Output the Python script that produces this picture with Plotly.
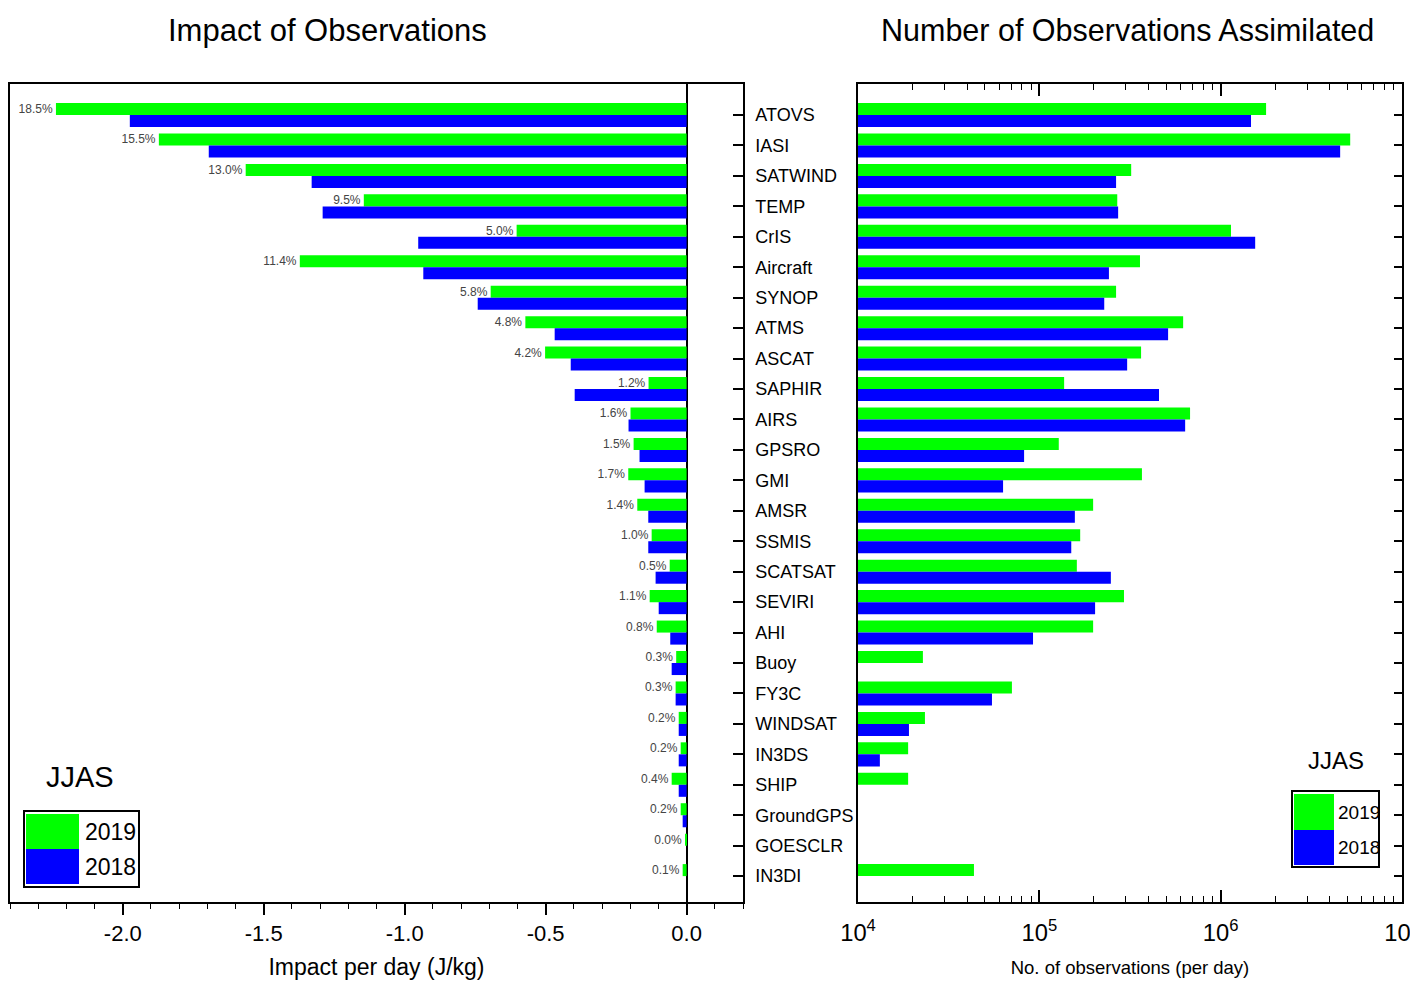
import plotly.graph_objects as go

categories = ["ATOVS", "IASI", "SATWIND", "TEMP", "CrIS", "Aircraft", "SYNOP", "ATMS",
              "ASCAT", "SAPHIR", "AIRS", "GPSRO", "GMI", "AMSR", "SSMIS", "SCATSAT",
              "SEVIRI", "AHI", "Buoy", "FY3C", "WINDSAT", "IN3DS", "SHIP", "GroundGPS",
              "GOESCLR", "IN3DI"]

impact_2019 = [-2.237, -1.872, -1.564, -1.145, -0.603, -1.372, -0.695, -0.572,
               -0.502, -0.135, -0.199, -0.188, -0.207, -0.175, -0.124, -0.060,
               -0.131, -0.106, -0.037, -0.039, -0.028, -0.021, -0.053, -0.021,
               -0.003, -0.014]
impact_2018 = [-1.975, -1.695, -1.330, -1.291, -0.952, -0.934, -0.741, -0.468,
               -0.411, -0.397, -0.206, -0.167, -0.149, -0.136, -0.136, -0.110,
               -0.099, -0.058, -0.053, -0.039, -0.028, -0.028, -0.028, -0.014,
               0.0, 0.0]
impact_pct_2019 = ["18.5%", "15.5%", "13.0%", "9.5%", "5.0%", "11.4%", "5.8%", "4.8%",
                   "4.2%", "1.2%", "1.6%", "1.5%", "1.7%", "1.4%", "1.0%", "0.5%",
                   "1.1%", "0.8%", "0.3%", "0.3%", "0.2%", "0.2%", "0.4%", "0.2%",
                   "0.0%", "0.1%"]

nobs_2019 = [1.78e6, 5.18e6, 3.21e5, 2.69e5, 1.14e6, 3.59e5, 2.65e5, 6.21e5,
             3.64e5, 1.37e5, 6.78e5, 1.28e5, 3.68e5, 1.98e5, 1.68e5, 1.61e5,
             2.93e5, 1.98e5, 2.28e4, 7.06e4, 2.34e4, 1.89e4, 1.89e4, None,
             None, 4.36e4]
nobs_2018 = [1.47e6, 4.56e6, 2.65e5, 2.72e5, 1.55e6, 2.42e5, 2.28e5, 5.13e5,
             3.05e5, 4.57e5, 6.37e5, 8.24e4, 6.31e4, 1.57e5, 1.50e5, 2.48e5,
             2.03e5, 9.23e4, None, 5.48e4, 1.91e4, 1.32e4, None, None,
             None, None]

impact_tickvals = [-2.0, -1.5, -1.0, -0.5, 0.0]
impact_ticktext = ["-2.0", "-1.5", "-1.0", "-0.5", "0.0"]

GREEN = "#00FF00"
BLUE = "#0000FF"
SANS = "Liberation Sans, Arial, sans-serif"

# The page body has an 8px margin; lay the figure out in screen pixels.
OFF = 8
W, H = 1410, 975


def px(x):
    return (x - OFF) / W


def py(y):
    return 1 - (y - OFF) / H


fig = go.Figure()

fig.add_trace(go.Bar(y=categories, x=impact_2019, orientation="h", name="2019",
                     marker=dict(color=GREEN, line=dict(width=0)),
                     text=impact_pct_2019, textposition="outside",
                     textfont=dict(family=SANS, size=12, color="#444444"),
                     constraintext="none", cliponaxis=False,
                     xaxis="x", yaxis="y", showlegend=False))
fig.add_trace(go.Bar(y=categories, x=impact_2018, orientation="h", name="2018",
                     marker=dict(color=BLUE, line=dict(width=0)),
                     xaxis="x", yaxis="y", showlegend=False))
fig.add_trace(go.Bar(y=categories, x=nobs_2019, orientation="h", name="2019",
                     marker=dict(color=GREEN, line=dict(width=0)),
                     xaxis="x2", yaxis="y2", showlegend=False))
fig.add_trace(go.Bar(y=categories, x=nobs_2018, orientation="h", name="2018",
                     marker=dict(color=BLUE, line=dict(width=0)),
                     xaxis="x2", yaxis="y2", showlegend=False))

ydom = [py(902), py(84)]
yrange = [25.85, -1.02]

fig.update_layout(
    width=W, height=H,
    margin=dict(l=0, r=0, t=0, b=0, pad=0, autoexpand=False),
    paper_bgcolor="white", plot_bgcolor="white",
    barmode="group", bargap=0.21, bargroupgap=0.0,
    font=dict(family=SANS, color="black"),
    xaxis=dict(domain=[px(10), px(743)], anchor="y", range=[-2.4, 0.2], automargin=False,
               tickvals=impact_tickvals, ticktext=impact_ticktext,
               ticks="outside", ticklen=11, tickwidth=1.5, tickcolor="black",
               minor=dict(ticks="outside", dtick=0.1, ticklen=5, tickwidth=1.2, tickcolor="black"),
               showline=True, linecolor="black", linewidth=1.5, mirror=True,
               showgrid=False, zeroline=True, zerolinecolor="black", zerolinewidth=1.5,
               tickfont=dict(family=SANS, size=22, color="black"),
               title=dict(text="Impact per day (J/kg)", standoff=14,
                          font=dict(family=SANS, size=23, color="black"))),
    xaxis3=dict(overlaying="x", matches="x", anchor="y", side="top", automargin=False,
                tickvals=impact_tickvals, showticklabels=False,
                ticks="inside", ticklen=10, tickwidth=1.5, tickcolor="black",
                minor=dict(ticks="inside", dtick=0.1, ticklen=5, tickwidth=1.2, tickcolor="black"),
                showline=False, showgrid=False, zeroline=False),
    yaxis=dict(domain=ydom, anchor="x", type="category", categoryorder="array",
               categoryarray=categories, range=yrange, side="right", automargin=False,
               ticks="inside", ticklen=10, tickwidth=1.5, tickcolor="black",
               ticklabelstandoff=7,
               showline=True, linecolor="black", linewidth=1.5, mirror=True,
               showgrid=False, zeroline=False,
               tickfont=dict(family=SANS, size=18, color="black")),
    xaxis2=dict(domain=[px(858), px(1402)], anchor="y2", type="log", range=[4, 7],
                automargin=False, ticklabeloverflow="allow",
                dtick=1, exponentformat="power", showexponent="all",
                ticks="inside", ticklen=12, tickwidth=1.5, tickcolor="black",
                minor=dict(ticks="inside", dtick="D1", ticklen=6, tickwidth=1.2, tickcolor="black"),
                ticklabelstandoff=10,
                showline=True, linecolor="black", linewidth=1.5, mirror="ticks",
                showgrid=False, zeroline=False,
                tickfont=dict(family=SANS, size=19, color="black"),
                title=dict(text="No. of observations (per day)", standoff=16,
                           font=dict(family=SANS, size=18.5, color="black"))),
    yaxis2=dict(domain=ydom, anchor="x2", type="category", categoryorder="array",
                categoryarray=categories, range=yrange, side="right", automargin=False,
                ticks="inside", ticklen=8, tickwidth=1.5, tickcolor="black",
                showticklabels=False,
                showline=True, linecolor="black", linewidth=1.5, mirror=True,
                showgrid=False, zeroline=False),
)

annotations = [
    dict(text="Impact of Observations", x=px(327), y=py(30), xref="paper", yref="paper",
         xanchor="center", yanchor="middle", showarrow=False,
         font=dict(family=SANS, size=31, color="black")),
    dict(text="Number of Observations Assimilated", x=px(1127), y=py(30), xref="paper", yref="paper",
         xanchor="center", yanchor="middle", showarrow=False,
         font=dict(family=SANS, size=30.5, color="black")),
]
shapes = []


def add_legend(label_x, label_y, label_size, box, sw_x1, rows, text_x, text_size):
    annotations.append(dict(text="JJAS", x=px(label_x), y=py(label_y), xref="paper", yref="paper",
                            xanchor="center", yanchor="middle", showarrow=False,
                            font=dict(family=SANS, size=label_size, color="black")))
    x0, y0, x1, y1 = box
    shapes.append(dict(type="rect", xref="paper", yref="paper",
                       x0=px(x0), x1=px(x1), y0=py(y0), y1=py(y1),
                       line=dict(color="black", width=2), fillcolor="white"))
    for (ry0, ry1, color, text) in rows:
        shapes.append(dict(type="rect", xref="paper", yref="paper",
                           x0=px(x0 + 2), x1=px(sw_x1), y0=py(ry0), y1=py(ry1),
                           line=dict(width=0), fillcolor=color))
        annotations.append(dict(text=text, x=px(text_x), y=py((ry0 + ry1) / 2),
                                xref="paper", yref="paper", xanchor="left", yanchor="middle",
                                showarrow=False,
                                font=dict(family=SANS, size=text_size, color="black")))


add_legend(80, 777, 29, (24, 811, 139, 887), 79,
           [(814, 849, GREEN, "2019"), (849, 884, BLUE, "2018")], 83, 23)
add_legend(1336, 760, 24, (1292, 791, 1379, 867), 1334,
           [(794, 830, GREEN, "2019"), (830, 865, BLUE, "2018")], 1336, 19)

fig.update_layout(annotations=annotations, shapes=shapes)

fig.write_html("out.html")
